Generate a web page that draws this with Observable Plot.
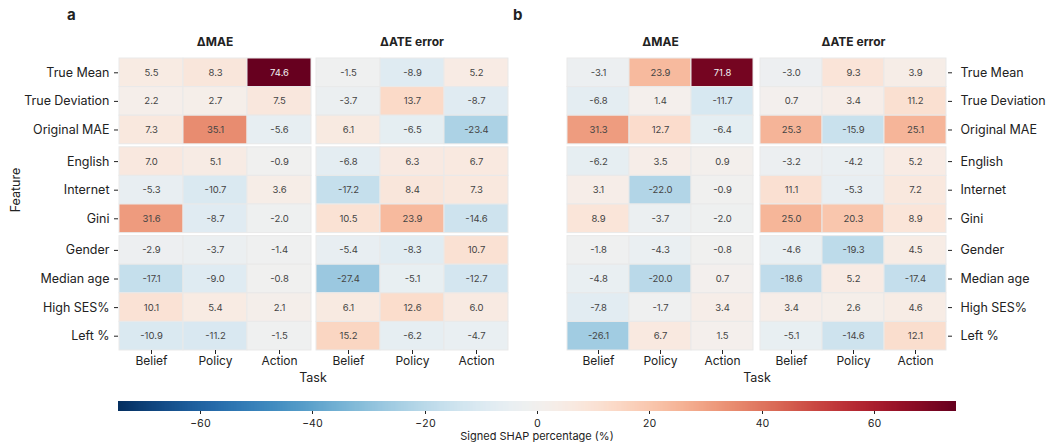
<!DOCTYPE html>
<html>
<head>
<meta charset="utf-8">
<script src="https://cdn.jsdelivr.net/npm/d3@7"></script>
<script src="https://cdn.jsdelivr.net/npm/@observablehq/plot@0.6"></script>
<style>
  html, body { margin: 0; padding: 0; background: #fff; }
  body { width: 1052px; height: 442px; position: relative; overflow: hidden; font-family: Inter, "Noto Sans", sans-serif; color: #222; }
  .abs { position: absolute; white-space: nowrap; }
  .lbl { font-size: 12.5px; color: #222; }
  .panel-letter { font-weight: 700; font-size: 15px; }
</style>
</head>
<body>
<div id="pa" class="abs" style="left:0;top:0"></div>
<div id="pb" class="abs" style="left:520px;top:0"></div>
<div class="abs panel-letter" style="left:67px;top:5px">a</div>
<div class="abs panel-letter" style="left:513px;top:5px">b</div>
<div class="abs lbl" style="left:313px;top:377px;transform:translate(-50%,-50%)">Task</div>
<div class="abs lbl" style="left:757px;top:377px;transform:translate(-50%,-50%)">Task</div>
<div class="abs lbl" style="left:15px;top:190px;transform:translate(-50%,-50%) rotate(-90deg)">Feature</div>
<div id="cbar" class="abs" style="left:118px;top:401px"></div>
<div class="abs" style="left:537px;top:436px;transform:translate(-50%,-50%);font-size:11px;color:#222">Signed SHAP percentage (%)</div>
<script>
// ---- data ----
const features = ["True Mean", "True Deviation", "Original MAE", "English", "Internet", "Gini", "Gender", "Median age", "High SES%", "Left %"];
const featureGroup = [0, 0, 0, 1, 1, 1, 2, 2, 2, 2];
const tasks = ["Belief", "Policy", "Action"];
const metrics = ["ΔMAE", "ΔATE error"];
const colorTicks = [-60, -40, -20, 0, 20, 40, 60];
const colorMax = 74.6;

// panel a, rows = features, cols = Belief, Policy, Action
const aMAE = [
  [5.5, 8.3, 74.6], [2.2, 2.7, 7.5], [7.3, 35.1, -5.6],
  [7.0, 5.1, -0.9], [-5.3, -10.7, 3.6], [31.6, -8.7, -2.0],
  [-2.9, -3.7, -1.4], [-17.1, -9.0, -0.8], [10.1, 5.4, 2.1], [-10.9, -11.2, -1.5]
];
const aATE = [
  [-1.5, -8.9, 5.2], [-3.7, 13.7, -8.7], [6.1, -6.5, -23.4],
  [-6.8, 6.3, 6.7], [-17.2, 8.4, 7.3], [10.5, 23.9, -14.6],
  [-5.4, -8.3, 10.7], [-27.4, -5.1, -12.7], [6.1, 12.6, 6.0], [15.2, -6.2, -4.7]
];
// panel b
const bMAE = [
  [-3.1, 23.9, 71.8], [-6.8, 1.4, -11.7], [31.3, 12.7, -6.4],
  [-6.2, 3.5, 0.9], [3.1, -22.0, -0.9], [8.9, -3.7, -2.0],
  [-1.8, -4.3, -0.8], [-4.8, -20.0, 0.7], [-7.8, -1.7, 3.4], [-26.1, 6.7, 1.5]
];
const bATE = [
  [-3.0, 9.3, 3.9], [0.7, 3.4, 11.2], [25.3, -15.9, 25.1],
  [-3.2, -4.2, 5.2], [11.1, -5.3, 7.2], [25.0, 20.3, 8.9],
  [-4.6, -19.3, 4.5], [-18.6, 5.2, -17.4], [3.4, 2.6, 4.6], [-5.1, -14.6, 12.1]
];

// ---- layout helpers ----
const GAP = 0.105; // gap between feature groups, in row units
const rowTop = features.map((f, i) => i + featureGroup[i] * GAP);
const yMax = features.length + (d3.max(featureGroup)) * GAP;
const centerName = new Map(features.map((f, i) => [rowTop[i] + 0.5, f]));
const centers = rowTop.map(t => t + 0.5);

const colorScale = {
  type: "linear",
  domain: [-colorMax, colorMax],
  interpolate: t => d3.interpolateRdBu(1 - t)
};

function buildData(mae, ate) {
  const out = [];
  [mae, ate].forEach((rows, m) => {
    rows.forEach((vals, i) => {
      vals.forEach((v, j) => {
        out.push({metric: metrics[m], feature: features[i], task: tasks[j], value: v, y0: rowTop[i]});
      });
    });
  });
  return out;
}

function panel(mae, ate, opts) {
  const data = buildData(mae, ate);
  return Plot.plot({
    width: opts.width,
    height: 385,
    marginTop: 58,
    marginBottom: 35,
    marginLeft: opts.marginLeft,
    marginRight: opts.marginRight,
    style: {fontFamily: "Inter, 'Noto Sans', sans-serif", fontSize: "12px", color: "#222", background: "transparent"},
    fx: {domain: metrics, paddingInner: opts.fxPad, paddingOuter: 0},
    x: {domain: tasks, padding: 0},
    y: {domain: [0, yMax], reverse: true},
    color: colorScale,
    marks: [
      Plot.barY(data, {
        fx: "metric", x: "task", y1: "y0", y2: d => d.y0 + 1,
        fill: "value", stroke: "#e9e9e9", strokeWidth: 1
      }),
      Plot.text(data, {
        fx: "metric", x: "task", y: d => d.y0 + 0.5,
        text: d => d.value.toFixed(1),
        fill: d => Math.abs(d.value) > 50 ? "#f2f2f2" : "#444",
        fontSize: 9.5
      }),
      Plot.axisFx({anchor: "top", tickSize: 0, tickPadding: 13, label: null, fontWeight: "bold", fontSize: 12}),
      Plot.axisX({anchor: "bottom", tickSize: 4, tickPadding: 2, label: null, fontSize: 12}),
      Plot.axisY(centers, {
        anchor: opts.yAnchor, tickSize: 4, tickPadding: opts.yPad, label: null, fontSize: 12.5,
        tickFormat: d => centerName.get(d)
      })
    ]
  });
}

document.getElementById("pa").append(panel(aMAE, aATE, {
  width: 520, marginLeft: 118, marginRight: 12, fxPad: 4 / 197, yAnchor: "left", yPad: 5
}));
document.getElementById("pb").append(panel(bMAE, bATE, {
  width: 532, marginLeft: 46, marginRight: 104, fxPad: 5 / 193.5, yAnchor: "right", yPad: 9
}));

// ---- colour bar ----
const leg = Plot.legend({
  color: colorScale,
  width: 838,
  height: 32,
  marginTop: 0,
  marginBottom: 22,
  marginLeft: 0,
  marginRight: 0,
  ticks: colorTicks.length,
  tickSize: 6,
  label: null,
  style: {fontFamily: "Inter, 'Noto Sans', sans-serif", fontSize: "10.5px", color: "#222"}
});
d3.select(leg).selectAll(".tick line").attr("y1", 0).attr("y2", 3);
document.getElementById("cbar").append(leg);
</script>
</body>
</html>
